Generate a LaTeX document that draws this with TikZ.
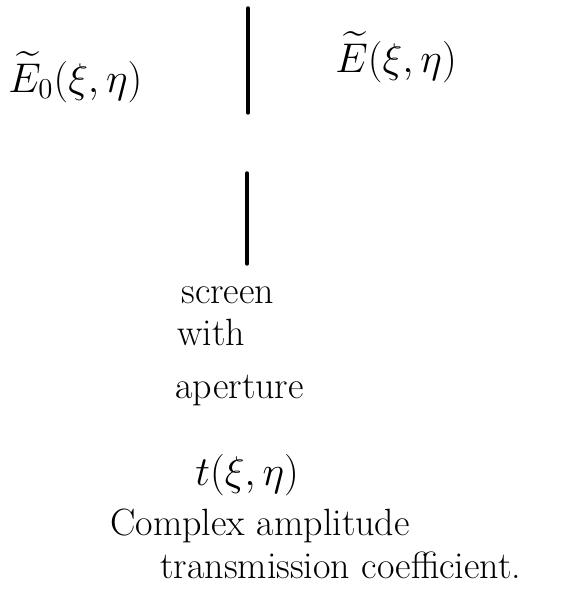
\documentclass[tikz,border=0pt]{standalone}
\usepackage{amsmath}
\usepackage{fontspec}
\usepackage{tikz}
\usetikzlibrary{positioning}
\tikzset{
  screenline/.style={line width=1.7pt, draw=black, line cap=round},
  fieldlabel/.style={font=\fontsize{22}{26}\selectfont, inner sep=0pt, anchor=base west},
  note/.style={font=\fontsize{19}{23}\selectfont, inner sep=0pt, anchor=base west}
}

\begin{document}
\begin{tikzpicture}[x=0.5pt,y=-0.5pt]
        \useasboundingbox (0,0) rectangle (567,596);

        % screen, cut by the aperture
        \coordinate (s0) at (248,8);
        \coordinate (s1) at (248,113);
        \coordinate (s2) at (247,173);
        \coordinate (s3) at (247,264);
        \draw[screenline] (s0) -- (s1);
        \draw[screenline] (s2) -- (s3);

        \node[fieldlabel] (ein) at (8,92) {$\widetilde{E}_0(\xi,\eta)$};
        \node[fieldlabel] (eout) at (335,72) {$\widetilde{E}(\xi,\eta)$};

        \node[note] (scr) at (181,303) {screen};
        \node[note] (wth) at (177,345) {with};
        \node[note] (apt) at (175,398) {aperture};
        \node[fieldlabel] (tf) at (195,485) {$t(\xi,\eta)$};
        \node[note] (cplx) at (110,535) {Complex amplitude};
        \node[note] (trans) at (160,578) {transmission coefficient.};
    \end{tikzpicture}
\end{document}
